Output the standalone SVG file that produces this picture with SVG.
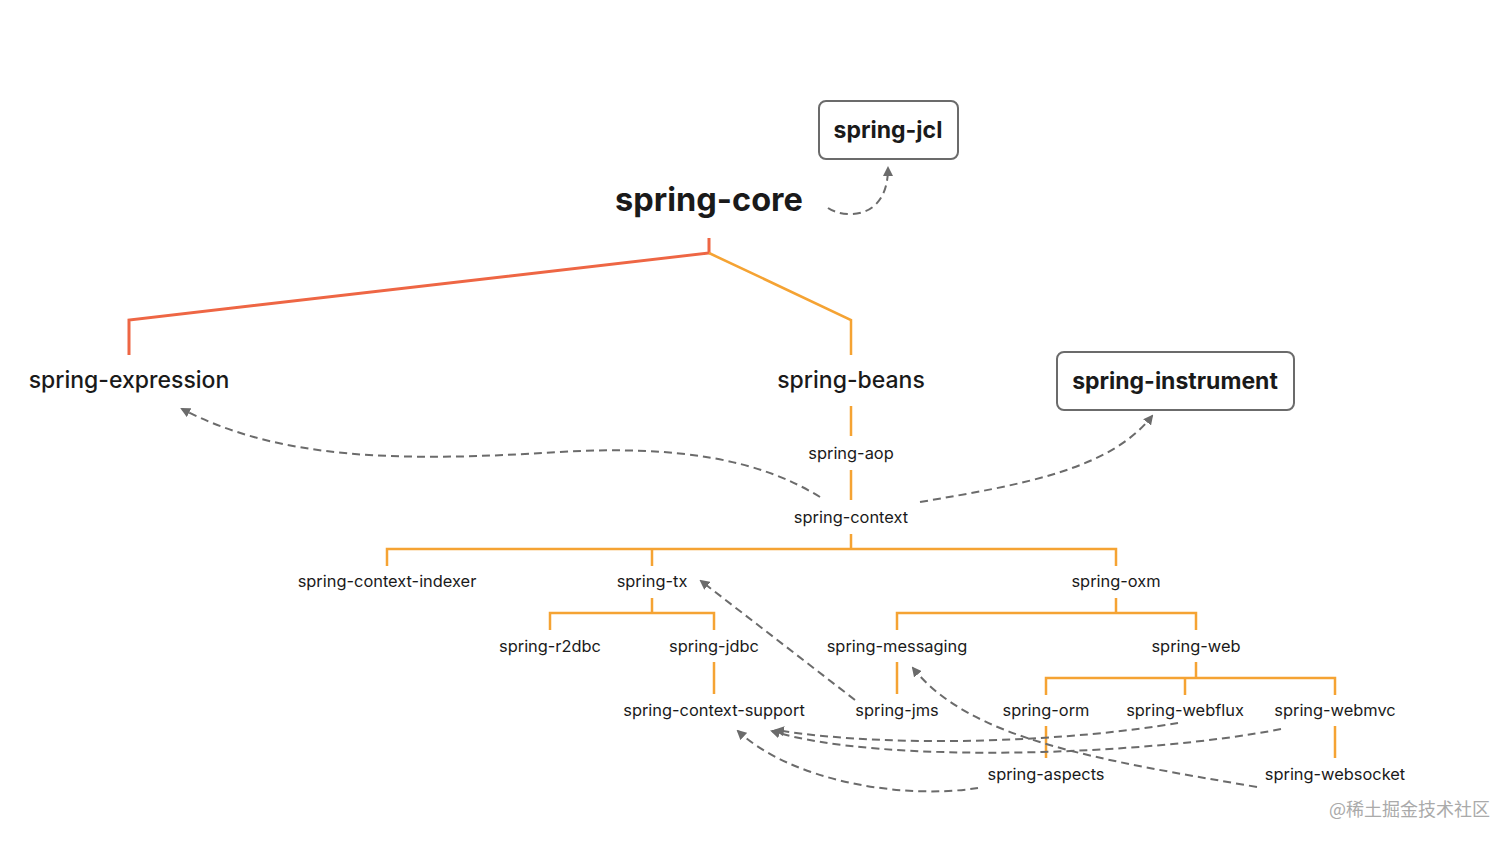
<svg xmlns="http://www.w3.org/2000/svg" width="1512" height="844" viewBox="0 0 1512 844">
<defs>
<marker id="ah" viewBox="0 0 10 10" refX="8" refY="5" markerWidth="10" markerHeight="10" markerUnits="userSpaceOnUse" orient="auto">
<path d="M0,0 L10,5 L0,10 z" fill="#6b6b6b"/>
</marker>
<style>
text{font-family:Inter,"Noto Sans",sans-serif;fill:#1a1a1a;text-anchor:middle}
.t1{font-size:32.5px;font-weight:700}
.t2{font-size:23px;font-weight:700}
.t3{font-size:23px;font-weight:500}
.t4{font-size:16.4px;font-weight:400}
.box{fill:#fff;stroke:#6b6b6b;stroke-width:2}
.red{fill:none;stroke:#ee6644;stroke-width:3}
.org{fill:none;stroke:#f5a333;stroke-width:2.5}
.dep{fill:none;stroke:#6b6b6b;stroke-width:2;stroke-dasharray:8 5;marker-end:url(#ah)}
.wm{font-family:"Noto Sans CJK SC",sans-serif;font-size:18px;fill:#aaaaaa;text-anchor:end}
</style>
</defs>
<rect width="1512" height="844" fill="#fff"/>
<g id="tree">
<path class="red" d="M709 238 V253 L129 320 V355"/>
<path class="org" d="M709 253 L851 320 V355"/>
<path class="org" d="M851 406 V436 M851 470 V500 M851 534 V549"/>
<path class="org" d="M387 566 V549 H1116 V566 M652 549 V566"/>
<path class="org" d="M652 598 V613 M550 630 V613 H714 V630"/>
<path class="org" d="M1116 598 V613 M897 630 V613 H1196 V630"/>
<path class="org" d="M714 662 V694 M897 662 V694"/>
<path class="org" d="M1196 662 V678 M1046 695 V678 H1335 V695 M1185 678 V695"/>
<path class="org" d="M1046 726 V758 M1335 726 V758"/>
</g>
<g id="connectors">
<path class="dep" d="M828 208 C842 218 888 222 888 168"/>
<path class="dep" d="M820 497 C760 460 680 445 560 452 C400 462 280 460 182 409"/>
<path class="dep" d="M920 502 C1020 485 1110 470 1152 416"/>
<path class="dep" d="M855 700 L701 581"/>
<path class="dep" d="M1257 787 C1100 760 970 740 913 668"/>
<path class="dep" d="M1178 723 C1080 740 900 750 776 730"/>
<path class="dep" d="M1281 729 C1150 755 880 765 772 731"/>
<path class="dep" d="M978 788 C900 800 790 780 738 731"/>
</g>
<g id="spring-jcl"><rect class="box" x="819" y="101" width="139" height="58" rx="7"/><text class="t2" x="888" y="138">spring-jcl</text></g>
<g id="spring-core"><text class="t1" x="709" y="211">spring-core</text></g>
<g id="spring-expression"><text class="t3" x="129" y="388">spring-expression</text></g>
<g id="spring-beans"><text class="t3" x="851" y="388">spring-beans</text></g>
<g id="spring-instrument"><rect class="box" x="1057" y="352" width="237" height="58" rx="7"/><text class="t2" x="1175" y="389">spring-instrument</text></g>
<g id="spring-aop"><text class="t4" x="851" y="459">spring-aop</text></g>
<g id="spring-context"><text class="t4" x="851" y="523">spring-context</text></g>
<g id="spring-context-indexer"><text class="t4" x="387" y="587">spring-context-indexer</text></g>
<g id="spring-tx"><text class="t4" x="652" y="587">spring-tx</text></g>
<g id="spring-oxm"><text class="t4" x="1116" y="587">spring-oxm</text></g>
<g id="spring-r2dbc"><text class="t4" x="550" y="652">spring-r2dbc</text></g>
<g id="spring-jdbc"><text class="t4" x="714" y="652">spring-jdbc</text></g>
<g id="spring-messaging"><text class="t4" x="897" y="652">spring-messaging</text></g>
<g id="spring-web"><text class="t4" x="1196" y="652">spring-web</text></g>
<g id="spring-context-support"><text class="t4" x="714" y="716">spring-context-support</text></g>
<g id="spring-jms"><text class="t4" x="897" y="716">spring-jms</text></g>
<g id="spring-orm"><text class="t4" x="1046" y="716">spring-orm</text></g>
<g id="spring-webflux"><text class="t4" x="1185" y="716">spring-webflux</text></g>
<g id="spring-webmvc"><text class="t4" x="1335" y="716">spring-webmvc</text></g>
<g id="spring-aspects"><text class="t4" x="1046" y="780">spring-aspects</text></g>
<g id="spring-websocket"><text class="t4" x="1335" y="780">spring-websocket</text></g>
<text class="wm" x="1490" y="816">@稀土掘金技术社区</text>
</svg>
